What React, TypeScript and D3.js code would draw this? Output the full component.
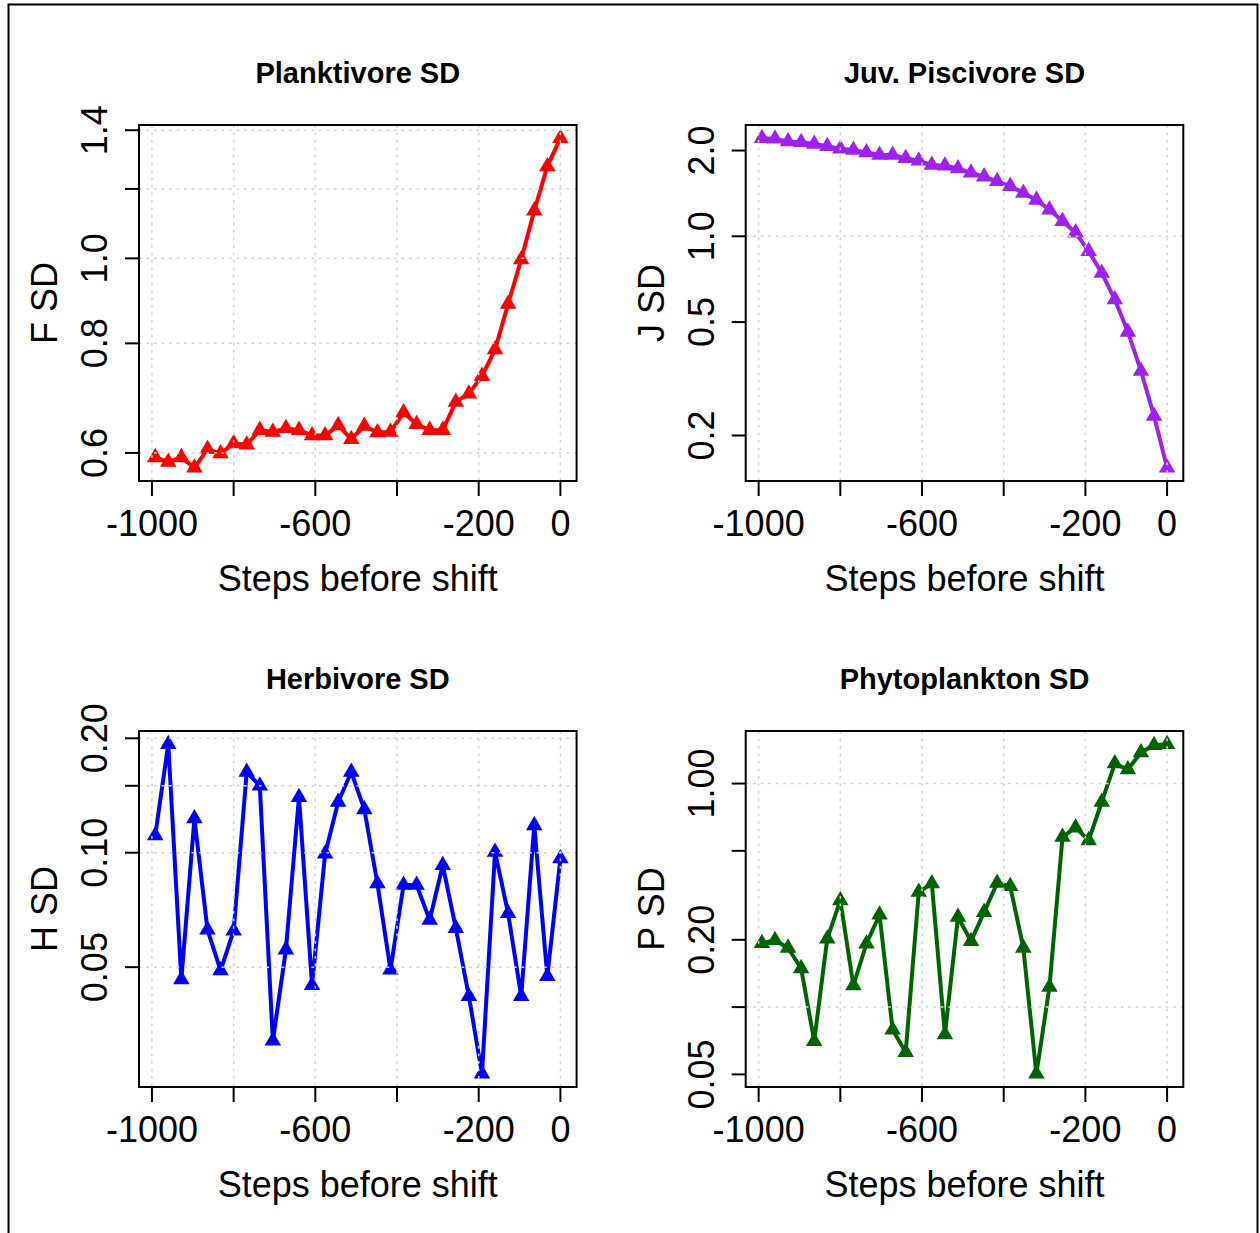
import React from "react";
import * as d3 from "d3";

// Steps before shift (x values shared by all panels)
const steps = [
  -992, -960, -928, -896, -864, -832, -800, -768, -736, -704, -672, -640, -608, -576, -544, -512,
  -480, -448, -416, -384, -352, -320, -288, -256, -224, -192, -160, -128, -96, -64, -32, 0,
];

const planktivoreSD = [
  0.593, 0.586, 0.593, 0.577, 0.606, 0.599, 0.615, 0.613, 0.637, 0.634, 0.64, 0.637, 0.628, 0.628, 0.645, 0.622,
  0.644, 0.633, 0.634, 0.667, 0.647, 0.637, 0.637, 0.686, 0.701, 0.734, 0.787, 0.887, 0.997, 1.133, 1.273, 1.371,
];

const juvPiscivoreSD = [
  2.21, 2.2, 2.15, 2.14, 2.11, 2.07, 2.03, 2.01, 1.97, 1.93, 1.93, 1.88, 1.84, 1.78, 1.77, 1.73,
  1.67, 1.62, 1.56, 1.5, 1.42, 1.34, 1.24, 1.13, 1.03, 0.886, 0.744, 0.6, 0.462, 0.337, 0.234, 0.154,
];

const herbivoreSD = [
  0.111, 0.193, 0.0464, 0.123, 0.0627, 0.049, 0.0623, 0.163, 0.15, 0.032, 0.0556, 0.14, 0.0448, 0.0994, 0.136, 0.163,
  0.13, 0.083, 0.0492, 0.0822, 0.0822, 0.0665, 0.0927, 0.0633, 0.0419, 0.0262, 0.1004, 0.0693, 0.0419, 0.118, 0.0473, 0.0965,
];

const phytoplanktonSD = [
  0.193, 0.199, 0.184, 0.149, 0.0704, 0.202, 0.3, 0.125, 0.192, 0.259, 0.0792, 0.0628, 0.327, 0.357, 0.0754, 0.253,
  0.197, 0.266, 0.359, 0.347, 0.184, 0.0503, 0.123, 0.577, 0.635, 0.557, 0.827, 1.229, 1.155, 1.377, 1.484, 1.5,
];

// Axis ticks
const xTicks = [-1000, -800, -600, -400, -200, 0];
const xTickLabels = ["-1000", "", "-600", "", "-200", "0"];

const fTicks = [0.6, 0.8, 1.0, 1.2, 1.4];
const fTickLabels = ["0.6", "0.8", "1.0", "", "1.4"];
const fGrid = [0.6, 0.8, 1.0, 1.2, 1.4];

const jTicks = [0.2, 0.5, 1.0, 2.0];
const jTickLabels = ["0.2", "0.5", "1.0", "2.0"];
const jGrid = [1.0];

const hTicks = [0.05, 0.1, 0.15, 0.2];
const hTickLabels = ["0.05", "0.10", "", "0.20"];
const hGrid = [0.05, 0.1, 0.15, 0.2];

const pTicks = [0.05, 0.1, 0.2, 0.5, 1.0];
const pTickLabels = ["0.05", "", "0.20", "", "1.00"];
const pGrid = [0.1, 1.0];

const titles = ["Planktivore SD", "Juv. Piscivore SD", "Herbivore SD", "Phytoplankton SD"];
const yLabels = ["F SD", "J SD", "H SD", "P SD"];
const xLabel = "Steps before shift";

const FONT = "'Liberation Sans', Arial, Helvetica, sans-serif";

type PanelProps = {
  x0: number;
  y0: number;
  title: string;
  ylab: string;
  values: number[];
  color: string;
  yTicks: number[];
  yTickLabels: string[];
  yGrid: number[];
};

const PW = 437.6;
const PH = 356;

function Panel({ x0, y0, title, ylab, values, color, yTicks, yTickLabels, yGrid }: PanelProps) {
  const [xmin, xmax] = d3.extent(steps) as [number, number];
  const xr = xmax - xmin;
  const x = d3
    .scaleLinear()
    .domain([xmin - 0.04 * xr, xmax + 0.04 * xr])
    .range([x0, x0 + PW]);
  const [lo, hi] = d3.extent(values) as [number, number];
  const lr = Math.log(hi / lo) * 0.04;
  const y = d3
    .scaleLog()
    .domain([lo * Math.exp(-lr), hi * Math.exp(lr)])
    .range([y0 + PH, y0]);

  const line = d3
    .line<number>()
    .x((_, i) => x(steps[i]))
    .y((d) => y(d));
  const tri = d3.symbol().type(d3.symbolTriangle).size(118)() as string;

  const gridStyle = {
    stroke: "#d3d3d3",
    strokeWidth: 1.5,
    strokeDasharray: "2.7 4.8",
    fill: "none",
  };

  const yb = y0 + PH;
  return (
    <g>
      {/* data */}
      <path d={line(values) as string} fill="none" stroke={color} strokeWidth={4} strokeLinejoin="round" />
      {values.map((v, i) => (
        <path key={i} d={tri} transform={`translate(${x(steps[i])},${y(v)})`} fill={color} />
      ))}
      {/* grid drawn over data */}
      {xTicks.map((t) => (
        <line key={"gx" + t} x1={x(t)} x2={x(t)} y1={y0} y2={yb} style={gridStyle} />
      ))}
      {yGrid.map((t) => (
        <line key={"gy" + t} x1={x0} x2={x0 + PW} y1={y(t)} y2={y(t)} style={gridStyle} />
      ))}
      {/* box */}
      <rect x={x0} y={y0} width={PW} height={PH} fill="none" stroke="#000" strokeWidth={2} />
      {/* x axis */}
      {xTicks.map((t, i) => (
        <g key={"xt" + t}>
          <line x1={x(t)} x2={x(t)} y1={yb} y2={yb + 15} stroke="#000" strokeWidth={2} />
          {xTickLabels[i] && (
            <text x={x(t)} y={yb + 55} textAnchor="middle" fontFamily={FONT} fontSize={36}>
              {xTickLabels[i]}
            </text>
          )}
        </g>
      ))}
      <text x={x0 + PW / 2} y={yb + 110} textAnchor="middle" fontFamily={FONT} fontSize={36}>
        {xLabel}
      </text>
      {/* y axis */}
      {yTicks.map((t, i) => (
        <g key={"yt" + t}>
          <line x1={x0 - 14} x2={x0} y1={y(t)} y2={y(t)} stroke="#000" strokeWidth={2} />
          {yTickLabels[i] && (
            <text
              transform={`translate(${x0 - 32},${y(t)}) rotate(-90)`}
              textAnchor="middle"
              fontFamily={FONT}
              fontSize={36}
            >
              {yTickLabels[i]}
            </text>
          )}
        </g>
      ))}
      <text
        transform={`translate(${x0 - 82},${y0 + PH / 2}) rotate(-90)`}
        textAnchor="middle"
        fontFamily={FONT}
        fontSize={36}
      >
        {ylab}
      </text>
      {/* title */}
      <text x={x0 + PW / 2} y={y0 - 42} textAnchor="middle" fontFamily={FONT} fontSize={29} fontWeight="bold">
        {title}
      </text>
    </g>
  );
}

export default function App() {
  const colors = ["#FF0000", "#A020F0", "#0000FF", "#006400"];
  const series = [planktivoreSD, juvPiscivoreSD, herbivoreSD, phytoplanktonSD];
  const ticks = [fTicks, jTicks, hTicks, pTicks];
  const tickLabels = [fTickLabels, jTickLabels, hTickLabels, pTickLabels];
  const grids = [fGrid, jGrid, hGrid, pGrid];
  const origins: [number, number][] = [
    [139, 125],
    [745.7, 125],
    [139, 731],
    [745.7, 731],
  ];
  return (
    <svg
      width={1260}
      height={1233}
      style={{ position: "absolute", left: 0, top: 0, background: "#fff" }}
    >
      <rect x={0} y={0} width={1260} height={1233} fill="#fff" />
      <rect x={8.5} y={4.5} width={1249} height={1260} fill="none" stroke="#000" strokeWidth={2} />
      {series.map((vals, i) => (
        <Panel
          key={i}
          x0={origins[i][0]}
          y0={origins[i][1]}
          title={titles[i]}
          ylab={yLabels[i]}
          values={vals}
          color={colors[i]}
          yTicks={ticks[i]}
          yTickLabels={tickLabels[i]}
          yGrid={grids[i]}
        />
      ))}
    </svg>
  );
}
